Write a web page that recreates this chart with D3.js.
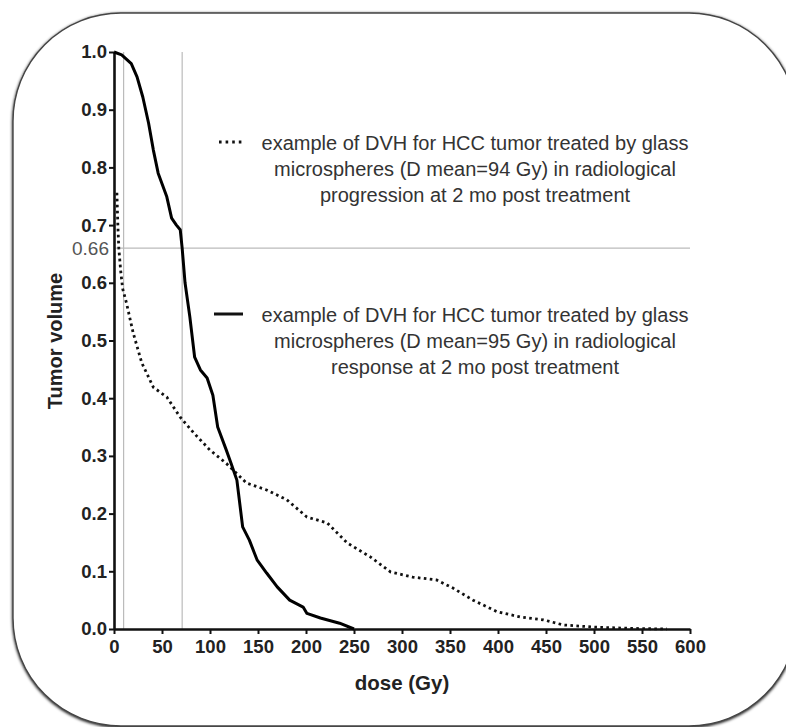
<!DOCTYPE html>
<html>
<head>
<meta charset="utf-8">
<script src="https://cdn.jsdelivr.net/npm/d3@7"></script>
<style>
  html, body { margin: 0; padding: 0; background: #fff; overflow: hidden; }
  svg { display: block; font-family: "Liberation Sans", Arial, sans-serif; }
</style>
</head>
<body>
<svg id="chart"></svg>
<script>
const width = 786
const height = 727

// response curve (solid)
const responseDose = [0, 8, 18, 24, 30, 36, 41, 46, 55, 60, 65, 69, 71, 74, 79, 84, 90, 97, 103, 108, 117, 122, 128, 134, 141, 149, 159, 170, 183, 197, 201, 215, 235, 250]
const responseVol = [1.0, 0.995, 0.98, 0.957, 0.922, 0.877, 0.83, 0.79, 0.749, 0.712, 0.70, 0.692, 0.66, 0.60, 0.541, 0.471, 0.449, 0.435, 0.405, 0.35, 0.31, 0.287, 0.258, 0.177, 0.154, 0.12, 0.097, 0.073, 0.05, 0.038, 0.027, 0.019, 0.01, 0]

// progression curve (dotted)
const progressionDose = [3, 4, 5, 7, 9, 13, 20, 29, 41, 55, 69, 83, 100, 117, 138, 159, 180, 201, 222, 243, 267, 288, 311, 336, 353, 374, 399, 423, 447, 468, 503, 540, 576]
const progressionVol = [0.756, 0.70, 0.66, 0.62, 0.59, 0.565, 0.513, 0.461, 0.419, 0.402, 0.367, 0.34, 0.31, 0.287, 0.253, 0.241, 0.224, 0.194, 0.184, 0.149, 0.125, 0.099, 0.09, 0.085, 0.071, 0.05, 0.03, 0.021, 0.016, 0.007, 0.003, 0.001, 0]

const refDoses = [10, 71]
const refVolume = 0.66

const xTicks = [0, 50, 100, 150, 200, 250, 300, 350, 400, 450, 500, 550, 600]
const yTicks = [0, 0.1, 0.2, 0.3, 0.4, 0.5, 0.6, 0.7, 0.8, 0.9, 1.0]

const legendProgression = [
  'example of DVH for HCC tumor treated by glass',
  'microspheres (D mean=94 Gy) in radiological',
  'progression at 2 mo post treatment'
]
const legendResponse = [
  'example of DVH for HCC tumor treated by glass',
  'microspheres (D mean=95 Gy) in radiological',
  'response at 2 mo post treatment'
]

const margin = { left: 114, right: 96, top: 52, bottom: 98 }

const x = d3.scaleLinear().domain([0, 600]).range([margin.left, width - margin.right])
const y = d3.scaleLinear().domain([0, 1]).range([height - margin.bottom, margin.top])

const svg = d3.select('#chart')
  .attr('width', width)
  .attr('height', height)

// frame with soft shadow
const defs = svg.append('defs')
const shadow = defs.append('filter').attr('id', 'shadow')
  .attr('x', '-5%').attr('y', '-5%').attr('width', '110%').attr('height', '110%')
shadow.append('feGaussianBlur').attr('in', 'SourceAlpha').attr('stdDeviation', 1.5)
shadow.append('feOffset').attr('dx', 0).attr('dy', 1).attr('result', 'b')
const merge = shadow.append('feMerge')
merge.append('feMergeNode').attr('in', 'b')
merge.append('feMergeNode').attr('in', 'SourceGraphic')

svg.append('rect')
  .attr('x', 13).attr('y', 13)
  .attr('width', 784).attr('height', 713)
  .attr('rx', 108).attr('ry', 108)
  .attr('fill', '#fff')
  .attr('stroke', '#444')
  .attr('stroke-width', 1.4)
  .attr('filter', 'url(#shadow)')

// reference lines
const ref = svg.append('g').attr('stroke', '#bbb').attr('stroke-width', 1.2)
ref.selectAll('line.v')
  .data(refDoses)
  .enter().append('line')
  .attr('class', 'v')
  .attr('x1', d => x(d)).attr('x2', d => x(d))
  .attr('y1', y(1)).attr('y2', y(0))
ref.append('line')
  .attr('x1', x(0)).attr('x2', x(600))
  .attr('y1', y(refVolume)).attr('y2', y(refVolume))

svg.append('text')
  .attr('x', x(0) - 5)
  .attr('y', y(refVolume))
  .attr('dy', '0.35em')
  .attr('text-anchor', 'end')
  .attr('fill', '#555')
  .style('font-size', '19px')
  .text(refVolume.toFixed(2))

// axes
const xAxis = svg.append('g')
  .attr('transform', `translate(0,${y(0)})`)
  .call(d3.axisBottom(x).tickValues(xTicks).tickSize(5).tickSizeOuter(0).tickPadding(6))
const yAxis = svg.append('g')
  .attr('transform', `translate(${x(0)},0)`)
  .call(d3.axisLeft(y).tickValues(yTicks).tickSize(5).tickSizeOuter(0).tickPadding(2).tickFormat(d3.format('.1f')))

;[xAxis, yAxis].forEach(g => {
  g.select('.domain').attr('stroke', '#111').attr('stroke-width', 2.6)
  g.selectAll('.tick line').attr('stroke', '#111').attr('stroke-width', 2)
  g.selectAll('.tick text')
    .attr('fill', '#222')
    .style('font-size', '18.5px')
    .style('font-weight', 'bold')
    .style('font-family', '"Liberation Sans", Arial, sans-serif')
})

// curves
const line = d3.line().x(d => x(d[0])).y(d => y(d[1]))

svg.append('path')
  .datum(progressionDose.map((d, i) => [d, progressionVol[i]]))
  .attr('d', line)
  .attr('fill', 'none')
  .attr('stroke', '#111')
  .attr('stroke-width', 2.8)
  .attr('stroke-dasharray', '2.6,3.4')

svg.append('path')
  .datum(responseDose.map((d, i) => [d, responseVol[i]]))
  .attr('d', line)
  .attr('fill', 'none')
  .attr('stroke', '#000')
  .attr('stroke-width', 3)
  .attr('stroke-linejoin', 'round')

// axis titles
svg.append('text')
  .attr('x', 402).attr('y', 683)
  .attr('dy', '0.35em')
  .attr('text-anchor', 'middle')
  .attr('fill', '#222')
  .style('font-size', '20.5px')
  .style('font-weight', 'bold')
  .text('dose (Gy)')

svg.append('text')
  .attr('transform', 'translate(55,341) rotate(-90)')
  .attr('dy', '0.35em')
  .attr('text-anchor', 'middle')
  .attr('fill', '#222')
  .style('font-size', '20px')
  .style('font-weight', 'bold')
  .text('Tumor volume')

// legend
function legendBlock (lines, top, dashed) {
  const g = svg.append('g')
  g.append('line')
    .attr('x1', dashed ? 219 : 214).attr('x2', 243)
    .attr('y1', top - 1).attr('y2', top - 1)
    .attr('stroke', '#111')
    .attr('stroke-width', dashed ? 2.8 : 3)
    .attr('stroke-dasharray', dashed ? '2.6,4' : null)
  g.selectAll('text')
    .data(lines)
    .enter().append('text')
    .attr('x', 475)
    .attr('y', (d, i) => top + i * 26)
    .attr('dy', '0.35em')
    .attr('text-anchor', 'middle')
    .attr('fill', '#333')
    .style('font-size', '20px')
    .text(d => d)
}

legendBlock(legendProgression, 143, true)
legendBlock(legendResponse, 315, false)
</script>
</body>
</html>
